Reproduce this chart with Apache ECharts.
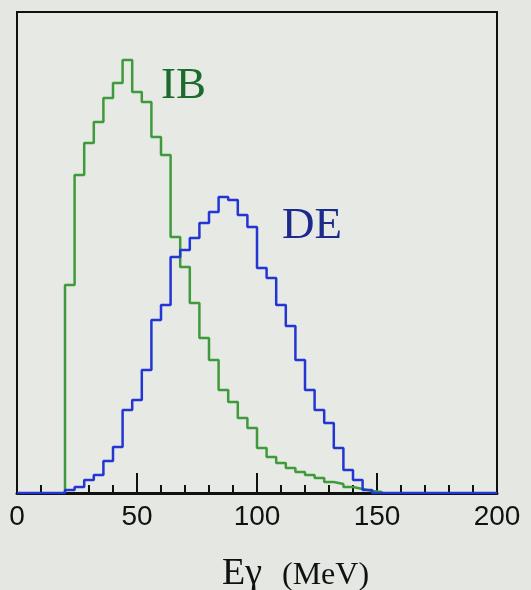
<!DOCTYPE html>
<html lang="en">
<head>
<meta charset="utf-8" />
<script src="https://cdn.jsdelivr.net/npm/echarts@6/dist/echarts.min.js"></script>
<style>
  html, body { margin: 0; padding: 0; background: #e4e7e2; }
  #main { width: 531px; height: 590px; }
</style>
</head>
<body>
<div id="main"></div>
<script>
// left edges of the 4 MeV bins
var binEdges = [20, 24, 28, 32, 36, 40, 44, 48, 52, 56, 60, 64, 68, 72, 76, 80, 84, 88,
  92, 96, 100, 104, 108, 112, 116, 120, 124, 128, 132, 136, 140, 144, 148];
// inner bremsstrahlung (arbitrary units)
var ibCounts = [208, 318, 350, 371, 395, 410, 433, 401, 391, 356, 338, 256, 226, 190, 155, 133, 103, 91,
  75, 65, 45, 36, 30, 25, 21, 18, 15, 11, 9, 6, 4, 2, 1];
// direct emission (arbitrary units)
var deCounts = [3, 6, 13, 18, 32, 46, 83, 93, 123, 173, 188, 236, 243, 255, 270, 281, 296, 293,
  278, 266, 225, 215, 188, 167, 133, 103, 83, 70, 45, 23, 13, 3, 0];
var xTicks = [0, 50, 100, 150, 200];

function stepData(counts, lead, tail) {
  var d = lead.slice();
  binEdges.forEach(function (e, i) { d.push([e, counts[i]]); });
  return d.concat(tail);
}

var serif = '"Liberation Serif", "Times New Roman", serif';
var chart = echarts.init(document.getElementById('main'));
chart.setOption({
  backgroundColor: '#e4e7e2',
  animation: false,
  grid: {
    left: 17, right: 34, top: 12, bottom: 97,
    show: true, borderColor: '#111', borderWidth: 2, backgroundColor: '#e6e9e4'
  },
  xAxis: {
    type: 'value', min: xTicks[0], max: xTicks[xTicks.length - 1], interval: 50,
    axisLine: { lineStyle: { color: '#111', width: 3 } },
    axisTick: { inside: true, length: 20, lineStyle: { color: '#111', width: 2 } },
    minorTick: { show: true, splitNumber: 5, length: 8, lineStyle: { color: '#111', width: 2 } },
    splitLine: { show: false },
    axisLabel: {
      margin: 10, color: '#111', fontSize: 28, fontFamily: 'Liberation Sans, Arial, sans-serif'
    }
  },
  yAxis: { type: 'value', min: 0, max: 481, show: false },
  graphic: [
    { type: 'text', left: 161, top: 64,
      style: { text: 'IB', fill: '#1d6b2c', font: '45px ' + serif } },
    { type: 'text', left: 282, top: 204,
      style: { text: 'DE', fill: '#1c2a8c', font: '45px ' + serif } },
    { type: 'text', left: 222, top: 555,
      style: { text: 'Eγ', fill: '#111', font: '38px ' + serif } },
    { type: 'text', left: 282, top: 560,
      style: { text: '(MeV)', fill: '#111', font: '32px ' + serif } }
  ],
  series: [
    {
      name: 'IB', type: 'line', step: 'end', symbol: 'none', z: 3,
      lineStyle: { color: '#3f9a3c', width: 2.5 },
      data: stepData(ibCounts, [[20, 0]], [[152, 0]])
    },
    {
      name: 'DE', type: 'line', step: 'end', symbol: 'none', z: 4,
      lineStyle: { color: '#2236d4', width: 2.5 },
      data: stepData(deCounts, [[0, 0]], [[200, 0]])
    }
  ]
});
</script>
</body>
</html>
